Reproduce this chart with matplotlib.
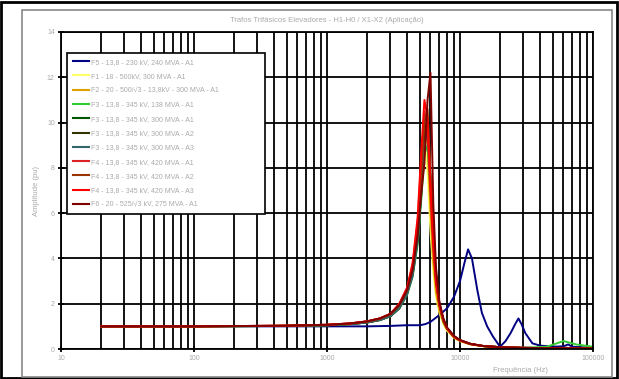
# -*- coding: utf-8 -*-
"""
Resposta em frequencia - trafos trifasicos elevadores
"""
import numpy as np
import matplotlib
matplotlib.use('Agg')
import matplotlib.pyplot as plt
from matplotlib.ticker import LogLocator, FixedLocator, NullFormatter
from matplotlib.patches import Rectangle

# Frequencias (Hz) das curvas com ressonancia em ~5,5 kHz
freq_r = [20, 100, 500, 1000, 1500, 2000, 2500, 3000, 3500, 4000, 4400, 4800,
          5100, 5400, 5700, 6000, 6300, 6600, 7000, 7500, 8000, 9000, 10000,
          12000, 15000, 20000, 30000, 45000, 60000, 75000, 100000]

# Frequencias (Hz) da curva F5
freq_b = [20, 100, 500, 1000, 2000, 3000, 4000, 5000, 5500, 6000, 7000, 8000,
          9000, 10000, 10800, 11500, 12300, 13500, 14600, 16000, 17700, 20000,
          22000, 24000, 26000, 27500, 29000, 31000, 35000, 40000, 50000, 60000,
          65000, 70000, 100000]

f5_a1 = [1.0, 1.0, 1.0, 1.0, 1.0, 1.02, 1.05, 1.05, 1.1, 1.2, 1.5, 1.8, 2.3,
         3.0, 3.8, 4.4, 4.0, 2.6, 1.6, 1.0, 0.55, 0.1, 0.35, 0.7, 1.1, 1.35,
         1.1, 0.7, 0.25, 0.15, 0.1, 0.12, 0.2, 0.1, 0.05]
f1_a1 = [1.0, 1.0, 1.02, 1.06, 1.12, 1.2, 1.32, 1.5, 1.9, 2.6, 3.6, 5.4, 7.6,
         9.4, 7.8, 5.2, 3.4, 2.3, 1.6, 1.1, 0.8, 0.5, 0.35, 0.2, 0.12, 0.08,
         0.05, 0.04, 0.03, 0.03, 0.02]
f2_a1 = [1.0, 1.0, 1.02, 1.05, 1.1, 1.18, 1.3, 1.48, 1.85, 2.5, 3.4, 5.0, 7.2,
         9.8, 9.0, 6.0, 3.8, 2.5, 1.7, 1.15, 0.85, 0.5, 0.35, 0.2, 0.12, 0.08,
         0.05, 0.04, 0.03, 0.03, 0.02]
f3_138_a1 = [1.0, 1.0, 1.02, 1.05, 1.1, 1.17, 1.28, 1.45, 1.8, 2.4, 3.2, 4.6,
             6.5, 8.6, 9.0, 7.0, 4.6, 3.0, 1.9, 1.2, 0.9, 0.55, 0.38, 0.22,
             0.13, 0.08, 0.05, 0.1, 0.35, 0.2, 0.1]
f3_300_a1 = [1.0, 1.0, 1.02, 1.05, 1.1, 1.17, 1.28, 1.45, 1.8, 2.45, 3.3, 4.8,
             6.8, 9.2, 9.8, 7.4, 4.8, 3.1, 1.95, 1.25, 0.9, 0.55, 0.38, 0.22,
             0.13, 0.08, 0.05, 0.04, 0.05, 0.04, 0.02]
f3_300_a2 = [1.0, 1.0, 1.02, 1.05, 1.1, 1.17, 1.28, 1.45, 1.8, 2.45, 3.3, 4.9,
             7.0, 9.6, 10.2, 7.6, 4.9, 3.1, 1.95, 1.25, 0.9, 0.55, 0.38, 0.22,
             0.13, 0.08, 0.05, 0.04, 0.05, 0.04, 0.02]
f3_300_a3 = [1.0, 1.0, 1.02, 1.05, 1.1, 1.17, 1.28, 1.45, 1.8, 2.4, 3.2, 4.7,
             6.7, 9.0, 9.6, 7.5, 5.0, 3.2, 2.0, 1.3, 0.92, 0.56, 0.38, 0.22,
             0.13, 0.08, 0.05, 0.04, 0.05, 0.04, 0.02]
f4_a1 = [1.0, 1.0, 1.03, 1.07, 1.13, 1.22, 1.35, 1.55, 2.0, 2.7, 3.7, 5.6, 8.2,
         10.5, 9.6, 6.8, 4.4, 2.9, 1.9, 1.25, 0.9, 0.55, 0.38, 0.22, 0.13,
         0.08, 0.05, 0.04, 0.03, 0.03, 0.02]
f4_a2 = [1.0, 1.0, 1.03, 1.07, 1.13, 1.22, 1.35, 1.55, 1.95, 2.6, 3.6, 5.3,
         7.6, 10.0, 10.6, 7.6, 5.0, 3.2, 2.0, 1.3, 0.92, 0.56, 0.38, 0.22, 0.13,
         0.08, 0.05, 0.04, 0.03, 0.03, 0.02]
f4_a3 = [1.0, 1.0, 1.03, 1.07, 1.13, 1.22, 1.35, 1.55, 2.0, 2.7, 3.8, 5.8, 8.6,
         11.0, 10.2, 7.2, 4.6, 3.0, 1.95, 1.28, 0.9, 0.55, 0.38, 0.22, 0.13,
         0.08, 0.05, 0.04, 0.03, 0.03, 0.02]
f6_a1 = [1.0, 1.0, 1.03, 1.07, 1.13, 1.22, 1.35, 1.55, 1.95, 2.6, 3.5, 5.0,
         6.8, 8.2, 11.0, 12.2, 6.4, 3.6, 2.1, 1.35, 0.95, 0.58, 0.4, 0.23, 0.13,
         0.08, 0.05, 0.04, 0.03, 0.03, 0.02]

labels = ['F5 - 13,8 - 230 kV, 240 MVA - A1',
          'F1 - 18 - 500kV, 300 MVA - A1',
          'F2 - 20 - 500/\u221a3 - 13,8kV - 300 MVA - A1',
          'F3 - 13,8 - 345 kV, 138 MVA - A1',
          'F3 - 13,8 - 345 kV, 300 MVA - A1',
          'F3 - 13,8 - 345 kV, 300 MVA - A2',
          'F3 - 13,8 - 345 kV, 300 MVA - A3',
          'F4 - 13,8 - 345 kV, 420 MVA - A1',
          'F4 - 13,8 - 345 kV, 420 MVA - A2',
          'F4 - 13,8 - 345 kV, 420 MVA - A3',
          'F6 - 20 - 525/\u221a3 kV, 275 MVA - A1']
series = [f5_a1, f1_a1, f2_a1, f3_138_a1, f3_300_a1, f3_300_a2, f3_300_a3,
          f4_a1, f4_a2, f4_a3, f6_a1]
cores = ['#000080', '#ffff66', '#e0a000', '#33cc33', '#005500', '#333300',
         '#336666', '#dd2222', '#993300', '#ff0000', '#800000']

x_ticks = [10, 100, 1000, 10000, 100000]
x_ticklabels = ['10', '100', '1000', '10000', '100000']
y_ticks = [0, 2, 4, 6, 8, 10, 12, 14]

cinza = '#aaaaaa'
plt.rcParams['font.family'] = ['Liberation Sans', 'DejaVu Sans']

fig = plt.figure(figsize=(6.19, 3.79), dpi=100, facecolor='w')
ax = fig.add_axes([61/619, 1 - 349/379, 532/619, 317/379])

for i, (vals, lab, c) in enumerate(zip(series, labels, cores)):
    fr = freq_b if i == 0 else freq_r
    ax.plot(fr, vals, color=c, lw=1.4, label=lab)

ax.set_xscale('log')
ax.set_xlim(10, 100000)
ax.set_ylim(0, 14)
ax.xaxis.set_major_locator(FixedLocator(x_ticks))
ax.set_xticklabels(x_ticklabels)
ax.xaxis.set_minor_locator(LogLocator(base=10, subs=np.arange(2, 10)))
ax.xaxis.set_minor_formatter(NullFormatter())
ax.set_yticks(y_ticks)

# grade preta grossa (estilo excel)
ax.set_axisbelow(True)
ax.grid(True, which='major', color='k', lw=1.3)
ax.grid(True, which='minor', axis='x', color='k', lw=1.3)
for sp in ax.spines.values():
    sp.set_linewidth(1.3)
ax.tick_params(axis='both', which='major', direction='inout', length=5,
               width=1.3, labelsize=5, labelcolor=cinza, pad=2)
ax.tick_params(axis='x', which='minor', length=0)

ax.set_title('Trafos Trif\u00e1sicos Elevadores - H1-H0 / X1-X2 (Aplica\u00e7\u00e3o)',
             fontsize=5.5, color=cinza, pad=7)
ax.set_ylabel('Amplitude (pu)', fontsize=5.5, color=cinza, labelpad=5)
fig.text(520/619, 1 - 370/379, 'Frequ\u00eancia (Hz)', fontsize=5.5,
         color=cinza, ha='center', va='center')

leg = ax.legend(loc='upper left', bbox_to_anchor=(67/619, 1 - 53/379, 198/619, 0),
                bbox_transform=fig.transFigure, mode='expand', borderaxespad=0,
                fontsize=5, labelspacing=1.05, handlelength=2.3,
                handletextpad=0.3, borderpad=0.8, fancybox=False,
                framealpha=1, edgecolor='k')
leg.get_frame().set_linewidth(1.2)
for t in leg.get_texts():
    t.set_color(cinza)
for h in leg.get_lines():
    h.set_linewidth(1.5)

# molduras da figura
fig.patches.append(Rectangle((1/619, 1/379), 616/619, 376/379, fill=False,
                             ec='k', lw=2, transform=fig.transFigure))
fig.patches.append(Rectangle((22/619, 2/379), 590/619, 367/379, fill=False,
                             ec='#888888', lw=1.2, transform=fig.transFigure))

fig.savefig('out.png', dpi=100)
